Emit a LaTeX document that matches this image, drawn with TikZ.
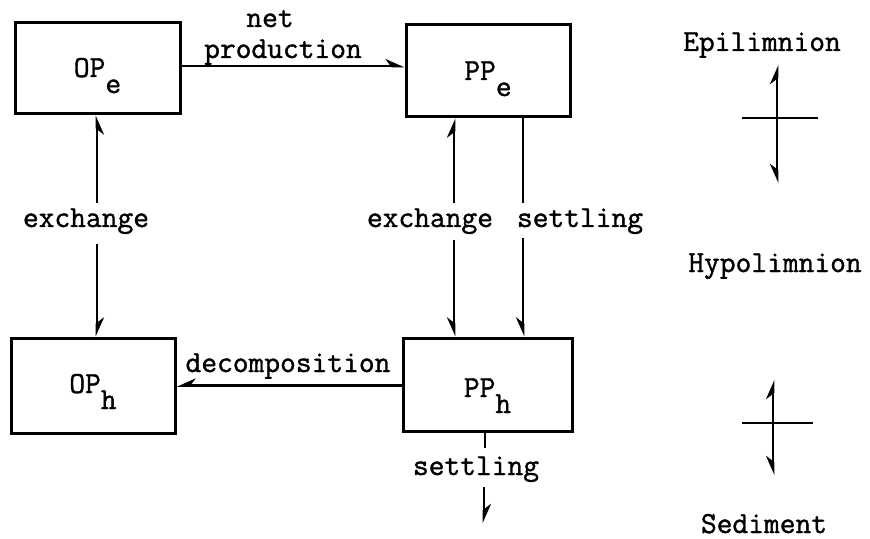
\documentclass[tikz,border=0pt]{standalone}
\usepackage{fontspec}
\setmainfont{Latin Modern Mono}[FakeBold=1.2]
\usetikzlibrary{arrows.meta}
% box caption: main letters, dropped subscript letter, baseline offset below the box centre
\newcommand\boxtext[3]{\raisebox{-#3}[0pt][0pt]{#1\raisebox{-8pt}{#2}}}

\begin{document}
\begin{tikzpicture}[x=0.5pt,y=-0.5pt,line width=1.4pt,
  every node/.style={font=\fontsize{15.3}{17}\selectfont,inner sep=0pt},
  box/.style={draw,rectangle,line width=1.5pt},
  lbl/.style={anchor=base},
  hl/.style={-{Stealth[harpoon,length=8pt,width=7pt]}},
  hr/.style={-{Stealth[harpoon,swap,length=8pt,width=7pt]}}]

  \fill[white] (0,0) rectangle (870,539);
  \useasboundingbox (0,0) rectangle (870,539);

  % compartments
  \node[box,minimum width=82.5pt,minimum height=45.5pt] (OPe) at (97.5,68.5) {\boxtext{OP}{e}{4.25pt}};
  \node[box,minimum width=82pt,minimum height=46pt] (PPe) at (488,71) {\boxtext{PP}{e}{4.5pt}};
  \node[box,minimum width=82pt,minimum height=47.5pt] (OPh) at (93,385.5) {\boxtext{OP}{h}{3.75pt}};
  \node[box,minimum width=84.5pt,minimum height=46.5pt] (PPh) at (487.5,384.5) {\boxtext{PP}{h}{6.25pt}};

  % flux labels
  \node[lbl] (netT) at (270,27) {net};
  \node[lbl] (prodT) at (283,58) {production};
  \node[lbl] (exL) at (86,227) {exchange};
  \node[lbl] (exR) at (430,227) {exchange};
  \node[lbl] (setU) at (580,227) {settling};
  \node[lbl] (decT) at (288,372) {decomposition};
  \node[lbl] (setD) at (476,475) {settling};

  % layer names
  \node[lbl] (epi) at (762,51) {Epilimnion};
  \node[lbl] (hypo) at (775,272) {Hypolimnion};
  \node[lbl] (sed) at (764,533) {Sediment};

  % net production and decomposition
  \draw[hl] ([yshift=1.25pt]OPe.east) -- ([yshift=1.25pt]OPe.east -| PPe.west);
  \draw[hr] (OPh.east -| PPh.west) -- (OPh.east);

  % exchange between OP compartments
  \coordinate (c1) at (97,203);
  \coordinate (c2) at (97,244);
  \draw[hr] (c1) -- (c1 |- OPe.south);
  \draw[hl] (c2) -- (c2 |- OPh.north);

  % exchange between PP compartments
  \coordinate (c3) at (454,203);
  \coordinate (c4) at (454,240);
  \draw[hl] (c3) -- (c3 |- PPe.south);
  \draw[hr] (c4) -- (c4 |- PPh.north);

  % settling from epilimnion to hypolimnion
  \coordinate (c5) at (523,203);
  \coordinate (c6) at (523,238);
  \draw (c5 |- PPe.south) -- (c5);
  \draw[hr] (c6) -- (c6 |- PPh.north);

  % settling to the sediment
  \coordinate (c7) at (485,448);
  \coordinate (c8) at (484,487);
  \coordinate (c9) at (484,523);
  \draw (c7 |- PPh.south) -- (c7);
  \draw[hl] (c8) -- (c9);

  % interface symbol: epilimnion / hypolimnion
  \coordinate (u0) at (777,118);
  \coordinate (uT) at (777,65);
  \coordinate (uB) at (777,183);
  \coordinate (uL) at (742,118);
  \coordinate (uR) at (818,118);
  \draw (uL) -- (uR);
  \draw[hl] (u0) -- (uT);
  \draw[hr] (u0) -- (uB);

  % interface symbol: hypolimnion / sediment
  \coordinate (d0) at (773,423);
  \coordinate (dT) at (773,380);
  \coordinate (dB) at (773,475);
  \coordinate (dL) at (742,423);
  \coordinate (dR) at (813,423);
  \draw (dL) -- (dR);
  \draw[hl] (d0) -- (dT);
  \draw[hr] (d0) -- (dB);
\end{tikzpicture}
\end{document}
